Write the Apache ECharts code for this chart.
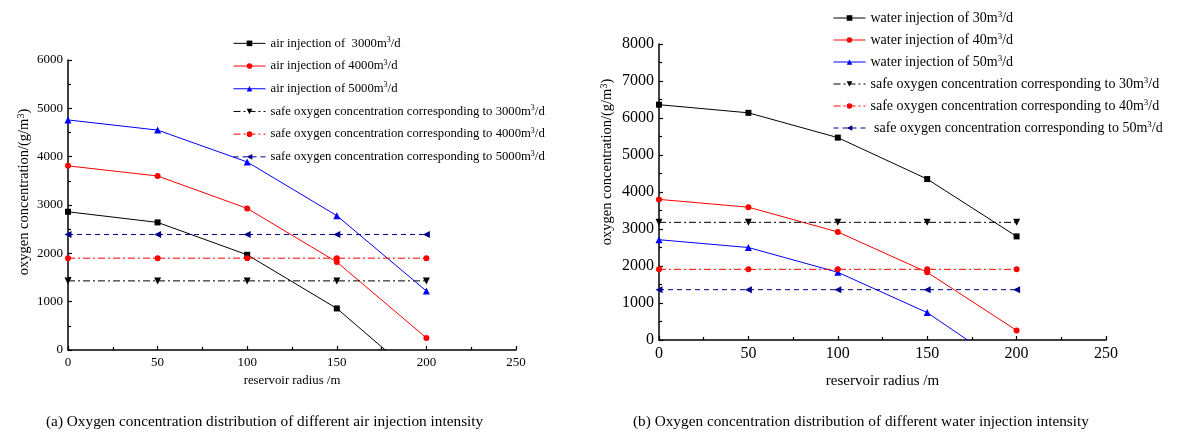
<!DOCTYPE html>
<html>
<head>
<meta charset="utf-8">
<script src="https://cdn.jsdelivr.net/npm/echarts@6/dist/echarts.min.js"></script>
<style>html,body{margin:0;padding:0;background:#fff}#c{width:1178px;height:437px}</style>
</head>
<body>
<div id="c"></div>
<script>
// ---- data ----
const radius = [0, 50, 100, 150, 200];
// (a) air injection
const airNames = ['air injection of  3000m3/d', 'air injection of 4000m3/d', 'air injection of 5000m3/d'];
const air3000 = [2860, 2640, 1970, 860, -730];
const air4000 = [3810, 3600, 2930, 1820, 250];
const air5000 = [4760, 4550, 3890, 2780, 1220];
const airSafeNames = ['safe oxygen concentration corresponding to 3000m3/d', 'safe oxygen concentration corresponding to 4000m3/d', 'safe oxygen concentration corresponding to 5000m3/d'];
const airSafe3000 = [1430, 1430, 1430, 1430, 1430];
const airSafe4000 = [1900, 1900, 1900, 1900, 1900];
const airSafe5000 = [2390, 2390, 2390, 2390, 2390];
// (b) water injection
const waterNames = ['water injection of 30m3/d', 'water injection of 40m3/d', 'water injection of 50m3/d'];
const water30 = [6360, 6140, 5470, 4350, 2800];
const water40 = [3800, 3590, 2920, 1830, 260];
const water50 = [2710, 2500, 1830, 740, -900];
const waterSafeNames = ['safe oxygen concentration corresponding to 30m3/d', 'safe oxygen concentration corresponding to 40m3/d', ' safe oxygen concentration corresponding to 50m3/d'];
const waterSafe30 = [3180, 3180, 3180, 3180, 3180];
const waterSafe40 = [1910, 1910, 1910, 1910, 1910];
const waterSafe50 = [1360, 1360, 1360, 1360, 1360];
const xTicks = [0, 50, 100, 150, 200, 250];
const yTicksA = [0, 1000, 2000, 3000, 4000, 5000, 6000];
const yTicksB = [0, 1000, 2000, 3000, 4000, 5000, 6000, 7000, 8000];
const xTitle = 'reservoir radius /m';
const yTitle = 'oxygen concentration/(g/m3)';
const captionA = '(a) Oxygen concentration distribution of different air injection intensity';
const captionB = '(b) Oxygen concentration distribution of different water injection intensity';

const FONT = '"Liberation Serif", "Times New Roman", serif';
const sup = s => s.replace('m3/d', 'm{sup|3}/d').replace('m3)', 'm{sup|3})');
const pairs = arr => radius.map((x, i) => [x, arr[i]]);

const styles = [
  {color: '#000000', symbol: 'rect', symbolSize: 6, type: 'solid'},
  {color: '#ff0000', symbol: 'circle', symbolSize: 6, type: 'solid'},
  {color: '#0000ff', symbol: 'triangle', symbolSize: 7, type: 'solid'},
  {color: '#000000', symbol: 'triangle', symbolSize: 7, rotate: 180, type: [7, 3, 2, 3]},
  {color: '#ff0000', symbol: 'circle', symbolSize: 6, type: [7, 3, 2, 3]},
  {color: '#00008b', symbol: 'triangle', symbolSize: 7, rotate: 90, type: [5, 4]}
];

function mkSeries(names, arrays, idx, off) {
  return names.map((n, j) => {
    const s = styles[j + off];
    return {
      type: 'line', name: n, xAxisIndex: idx, yAxisIndex: idx,
      data: pairs(arrays[j]),
      color: s.color,
      symbol: s.symbol, symbolSize: s.symbolSize,
      symbolRotate: s.rotate || 0,
      showAllSymbol: true, clip: true, animation: false,
      lineStyle: {width: 1, color: s.color, type: s.type},
      itemStyle: {color: s.color}
    };
  });
}

function xAxis(idx, fs) {
  return {
    type: 'value', gridIndex: idx, min: 0, max: 250, interval: 50,
    axisLine: {show: true, onZero: false, lineStyle: {color: '#000', width: 1.5}},
    axisTick: {show: true, inside: true, length: 4, lineStyle: {color: '#000', width: 1.2}},
    minorTick: {show: true, splitNumber: 2, length: 3, lineStyle: {color: '#000', width: 1.2}},
    splitLine: {show: false},
    axisLabel: {color: '#000', fontFamily: FONT, fontSize: fs, margin: 6,
      formatter: v => xTicks.includes(v) ? String(v) : ''}
  };
}
function yAxis(idx, max, fs, ticks) {
  return {
    type: 'value', gridIndex: idx, min: 0, max: max, interval: 1000,
    axisLine: {show: true, lineStyle: {color: '#000', width: 1.5}},
    axisTick: {show: true, inside: true, length: 4, lineStyle: {color: '#000', width: 1.2}},
    minorTick: {show: true, splitNumber: 2, length: 3, lineStyle: {color: '#000', width: 1.2}},
    splitLine: {show: false},
    axisLabel: {color: '#000', fontFamily: FONT, fontSize: fs, margin: 5,
      formatter: v => ticks.includes(v) ? String(v) : ''}
  };
}

function legend(names, left, top, fs, gap) {
  return {
    show: true, orient: 'vertical', left: left, top: top,
    data: names, itemWidth: 32, itemHeight: 7, itemGap: gap,
    padding: 0,
    lineStyle: {width: 1},
    textStyle: {color: '#000', fontFamily: FONT, fontSize: fs, lineHeight: fs + 2,
      rich: {sup: {fontFamily: FONT, fontSize: Math.round(fs * 0.65), verticalAlign: 'top', lineHeight: fs + 2}}},
    formatter: n => sup(n),
    selectedMode: false
  };
}

function yName(x, y, fs) {
  return {
    type: 'text', x: x, y: y, rotation: Math.PI / 2,
    style: {text: sup(yTitle), fill: '#000', font: fs + 'px ' + FONT,
      align: 'center', verticalAlign: 'middle',
      rich: {sup: {fontFamily: FONT, fontSize: Math.round(fs * 0.7), verticalAlign: 'top', fill: '#000'}}}
  };
}

const chart = echarts.init(document.getElementById('c'), null, {renderer: 'canvas'});
chart.setOption({
  backgroundColor: '#ffffff',
  animation: false,
  grid: [
    {left: 68, top: 60, width: 448, height: 290},
    {left: 659, top: 44, width: 447, height: 296}
  ],
  xAxis: [
    Object.assign(xAxis(0, 13), {name: xTitle, nameLocation: 'middle', nameGap: 21,
      nameTextStyle: {color: '#000', fontFamily: FONT, fontSize: 12.8}}),
    Object.assign(xAxis(1, 16), {name: xTitle, nameLocation: 'middle', nameGap: 34,
      nameTextStyle: {color: '#000', fontFamily: FONT, fontSize: 15}})
  ],
  yAxis: [yAxis(0, 6000, 13, yTicksA), yAxis(1, 8000, 16, yTicksB)],
  legend: [
    legend(airNames.concat(airSafeNames), 233, 36, 12.7, 8),
    legend(waterNames.concat(waterSafeNames), 833, 10, 14, 6)
  ],
  title: [
    {text: captionA, left: 46, top: 414, textStyle: {color: '#000', fontFamily: FONT, fontSize: 15.3, fontWeight: 'normal'}, padding: 0},
    {text: captionB, left: 633, top: 414, textStyle: {color: '#000', fontFamily: FONT, fontSize: 15.3, fontWeight: 'normal'}, padding: 0}
  ],
  graphic: [yName(24, 192, 14.5), yName(607, 162, 14.5)],
  series: mkSeries(airNames, [air3000, air4000, air5000], 0, 0)
    .concat(mkSeries(airSafeNames, [airSafe3000, airSafe4000, airSafe5000], 0, 3))
    .concat(mkSeries(waterNames, [water30, water40, water50], 1, 0))
    .concat(mkSeries(waterSafeNames, [waterSafe30, waterSafe40, waterSafe50], 1, 3))
});
</script>
</body>
</html>
